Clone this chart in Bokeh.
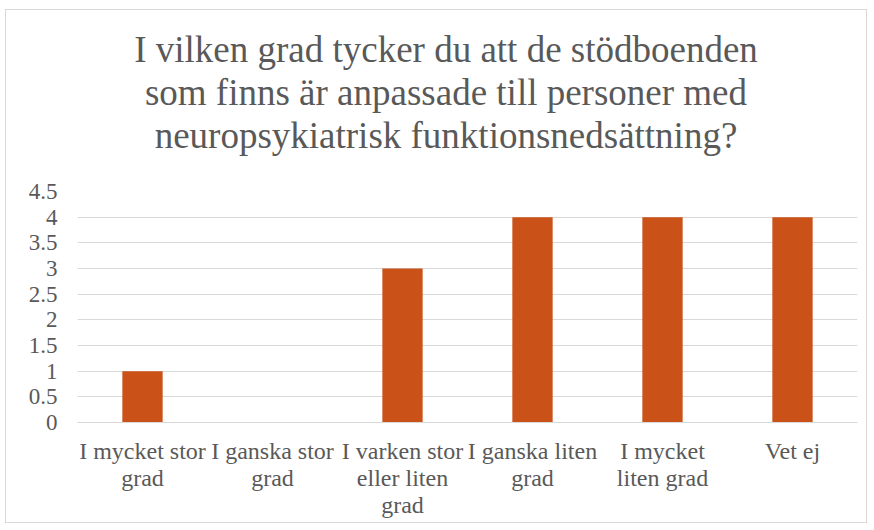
from bokeh.plotting import figure
from bokeh.models import FixedTicker, Range1d, LinearAxis, Div
from bokeh.layouts import column
from bokeh.embed import file_html
from bokeh.resources import INLINE

categories = ["I mycket stor grad", "I ganska stor grad", "I varken stor eller liten grad",
              "I ganska liten grad", "I mycket liten grad", "Vet ej"]
label_line1 = ["I mycket stor", "I ganska stor", "I varken stor", "I ganska liten", "I mycket", "Vet ej"]
label_line2 = ["grad", "grad", "eller liten", "grad", "liten grad", ""]
label_line3 = ["", "", "grad", "", "", ""]
values = [1, 0, 3, 4, 4, 4]
y_ticks = [0, 0.5, 1, 1.5, 2, 2.5, 3, 3.5, 4, 4.5]
title_lines = ["I vilken grad tycker du att de stödboenden",
               "som finns är anpassade till personer med",
               "neuropsykiatrisk funktionsnedsättning?"]

FONT = "Liberation Serif"
GREY = "#595959"

# category slot centres on a numeric axis (one unit per category)
x_pos = [i + 0.5 for i in range(len(categories))]

title = Div(text="<br>".join(title_lines), width=860, height=162,
            styles={"text-align": "center", "font-family": "'Liberation Serif', serif",
                    "font-size": "37px", "line-height": "43px", "color": GREY,
                    "padding-top": "18px", "padding-left": "20px", "box-sizing": "border-box",
                    "width": "860px", "height": "162px", "margin": "0"})

p = figure(x_range=Range1d(0, len(categories)), y_range=Range1d(0, 4.5), width=860, height=350,
           output_backend="svg", toolbar_location=None, tools="")
p.min_border_left = 71
p.min_border_right = 9
p.min_border_top = 19
p.min_border_bottom = 100
p.outline_line_color = None

p.vbar(x=x_pos, top=values, width=0.31, color="#CA5118", line_color=None)

p.yaxis.ticker = FixedTicker(ticks=y_ticks)
p.yaxis.major_label_overrides = {t: (str(int(t)) if float(t).is_integer() else str(t)) for t in y_ticks}
p.yaxis.axis_line_color = None
p.yaxis.major_tick_line_color = None
p.yaxis.major_tick_out = 0
p.yaxis.minor_tick_line_color = None
p.yaxis.major_label_text_font = FONT
p.yaxis.major_label_text_font_size = "23px"
p.yaxis.major_label_text_color = GREY
p.yaxis.major_label_standoff = 20

def style_x(ax, standoff, labels):
    ax.ticker = FixedTicker(ticks=x_pos)
    ax.major_label_overrides = {x: (l if l else " ") for x, l in zip(x_pos, labels)}
    ax.major_tick_line_color = None
    ax.major_tick_out = 0
    ax.major_tick_in = 0
    ax.minor_tick_line_color = None
    ax.minor_tick_out = 0
    ax.major_label_text_font = FONT
    ax.major_label_text_font_size = "24px"
    ax.major_label_text_color = GREY
    ax.major_label_standoff = standoff

p.xaxis.axis_line_color = "#d9d9d9"
style_x(p.xaxis[0], 15, label_line1)

for lines in (label_line2, label_line3):
    ax = LinearAxis()
    ax.axis_line_color = None
    style_x(ax, -2, lines)
    p.add_layout(ax, "below")

p.xgrid.grid_line_color = None
p.ygrid.grid_line_color = "#d9d9d9"

layout = column(title, p, spacing=0,
                styles={"border": "1px solid #d9d9d9", "margin-left": "5px", "margin-top": "9px"})

open("out.html", "w").write(file_html(layout, INLINE))
